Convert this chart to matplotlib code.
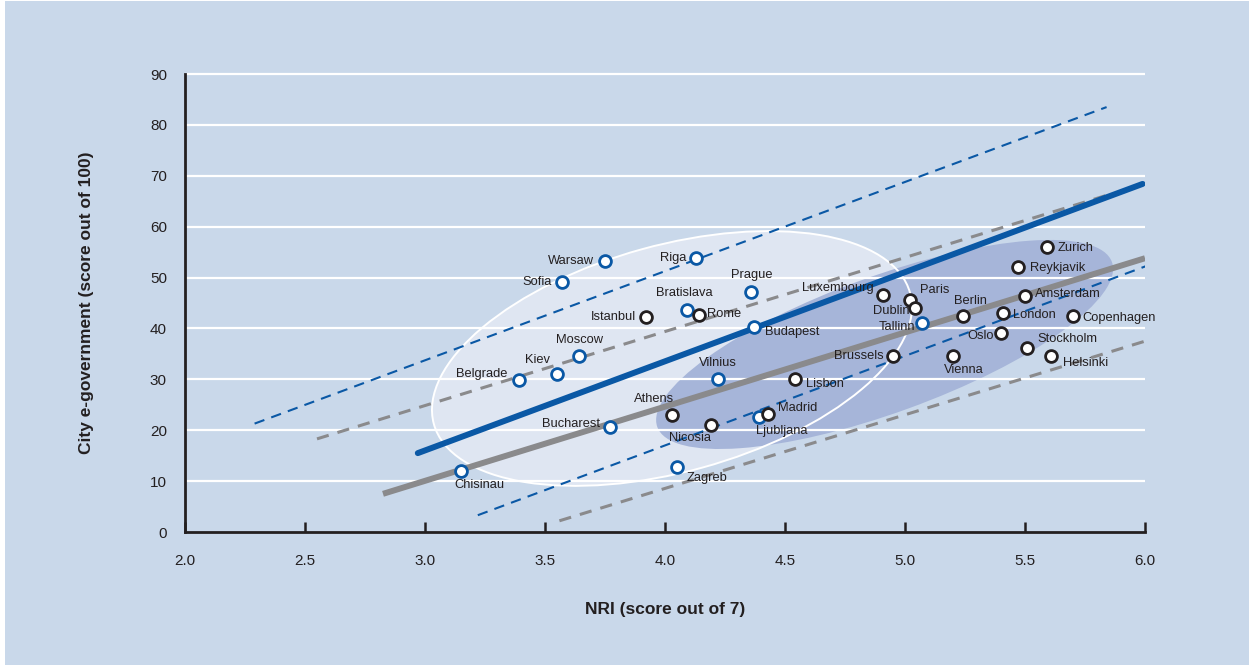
import matplotlib
matplotlib.use("Agg")
import matplotlib.pyplot as plt
from matplotlib.patches import Ellipse, Rectangle
from matplotlib.transforms import Affine2D

plt.rcParams["font.family"] = ["Liberation Sans", "DejaVu Sans"]

# City scores: NRI (x) vs city e-government (y)
cities = ["Warsaw", "Riga", "Sofia", "Prague", "Bratislava", "Rome", "Istanbul",
          "Budapest", "Moscow", "Kiev", "Belgrade", "Vilnius", "Athens", "Bucharest",
          "Nicosia", "Ljubljana", "Madrid", "Zagreb", "Chisinau", "Lisbon",
          "Luxembourg", "Paris", "Dublin", "Tallinn", "Brussels", "Berlin", "Vienna",
          "London", "Oslo", "Amsterdam", "Reykjavik", "Zurich", "Copenhagen",
          "Stockholm", "Helsinki"]
nri = [3.75, 4.13, 3.57, 4.36, 4.09, 4.14, 3.92,
       4.37, 3.64, 3.55, 3.39, 4.22, 4.03, 3.77,
       4.19, 4.39, 4.43, 4.05, 3.15, 4.54,
       4.91, 5.02, 5.04, 5.07, 4.95, 5.24, 5.20,
       5.41, 5.40, 5.50, 5.47, 5.59, 5.70,
       5.51, 5.61]
egov = [53.3, 53.8, 49.1, 47.2, 43.6, 42.6, 42.2,
        40.3, 34.6, 31.0, 29.9, 30.1, 23.0, 20.6,
        21.0, 22.6, 23.2, 12.8, 12.0, 30.1,
        46.6, 45.6, 44.0, 41.1, 34.6, 42.4, 34.6,
        43.0, 39.1, 46.4, 52.1, 56.0, 42.4,
        36.2, 34.6]
# group: "new" member / candidate states (blue) vs others (black)
group = ["new", "new", "new", "new", "new", "old", "old",
         "new", "new", "new", "new", "new", "old", "new",
         "old", "new", "old", "new", "new", "old",
         "old", "old", "old", "new", "old", "old", "old",
         "old", "old", "old", "old", "old", "old",
         "old", "old"]

# Trend lines (start and end points)
blue_fit_x, blue_fit_y = [2.97, 5.99], [15.5, 68.4]
blue_hi_x, blue_hi_y = [2.29, 5.84], [21.3, 83.5]
blue_lo_x, blue_lo_y = [3.22, 6.03], [3.3, 52.7]
grey_fit_x, grey_fit_y = [2.825, 6.0], [7.5, 53.8]
grey_hi_x, grey_hi_y = [2.55, 5.85], [18.3, 66.3]
grey_lo_x, grey_lo_y = [3.56, 6.0], [2.2, 37.5]

x_ticks = [2.0, 2.5, 3.0, 3.5, 4.0, 4.5, 5.0, 5.5, 6.0]
y_ticks = [0, 10, 20, 30, 40, 50, 60, 70, 80, 90]

# label placement: (dx, dy) in points, ha, va
label_pos = {
    "Warsaw": (-8, 0, "right", "center"),
    "Riga": (-7, 0, "right", "center"),
    "Sofia": (-7, 0, "right", "center"),
    "Prague": (0, 8, "center", "bottom"),
    "Bratislava": (-2, 8, "center", "bottom"),
    "Rome": (6, 1, "left", "center"),
    "Istanbul": (-7, 0, "right", "center"),
    "Budapest": (8, -4, "left", "center"),
    "Moscow": (1, 7, "center", "bottom"),
    "Kiev": (-14, 6, "center", "bottom"),
    "Belgrade": (-8, 4, "right", "center"),
    "Vilnius": (0, 7, "center", "bottom"),
    "Athens": (-13, 7, "center", "bottom"),
    "Bucharest": (-7, 2, "right", "center"),
    "Nicosia": (-15, -5, "center", "top"),
    "Ljubljana": (17, -6, "center", "top"),
    "Madrid": (7, 4, "left", "center"),
    "Zagreb": (7, -4, "left", "top"),
    "Chisinau": (13, -6, "center", "top"),
    "Lisbon": (8, -4, "left", "center"),
    "Luxembourg": (-7, 5, "right", "center"),
    "Paris": (7, 7, "left", "center"),
    "Dublin": (-4, -2, "right", "center"),
    "Tallinn": (-5, -3, "right", "center"),
    "Brussels": (-7, 0, "right", "center"),
    "Berlin": (6, 7, "center", "bottom"),
    "Vienna": (8, -6, "center", "top"),
    "London": (7, -1, "left", "center"),
    "Oslo": (-5, -2, "right", "center"),
    "Amsterdam": (7, 1, "left", "center"),
    "Reykjavik": (9, -1, "left", "center"),
    "Zurich": (8, -1, "left", "center"),
    "Copenhagen": (7, -1, "left", "center"),
    "Stockholm": (7, 6, "left", "center"),
    "Helsinki": (8, -5, "left", "center"),
}

BG = "#c9d8ea"
BLUE = "#0a58a5"
GREY = "#8a8a8c"
INK = "#231f20"

fig = plt.figure(figsize=(12.53, 6.70), dpi=100, facecolor="white")
fig.add_artist(Rectangle((5 / 1253, 5 / 670), 1244 / 1253, 664 / 670,
                         transform=fig.transFigure, facecolor=BG,
                         edgecolor="none", zorder=-10))

ax = fig.add_axes([185 / 1253, 138 / 670, 960 / 1253, 458 / 670])
ax.set_facecolor("none")
ax.set_xlim(2.0, 6.0)
ax.set_ylim(0, 90)

# isotropic coordinates for the ellipses (1 unit = one NRI point on screen)
y_per_x = (90 / 458) * (960 / 4.0)
iso = Affine2D().scale(1, y_per_x) + ax.transData

ax.add_patch(Ellipse((4.029, 34.1 / y_per_x), 2.058, 0.944, angle=15.4,
                     transform=iso, facecolor="#dfe6f2", edgecolor="none", zorder=1))
ax.add_patch(Ellipse((4.915, 36.85 / y_per_x), 2.015, 0.569, angle=19.95,
                     transform=iso, facecolor="#a6b5d9", edgecolor="none", zorder=1.5))
ax.add_patch(Ellipse((4.029, 34.1 / y_per_x), 2.058, 0.944, angle=15.4,
                     transform=iso, facecolor="none", edgecolor="white",
                     linewidth=1.4, zorder=2.5))

ax.hlines(y_ticks[1:], 2.0, 6.0, color="white", linewidth=1.6, zorder=2, clip_on=False)

ax.plot(grey_hi_x, grey_hi_y, color=GREY, lw=2.2, dashes=(4, 3), zorder=3)
ax.plot(grey_lo_x, grey_lo_y, color=GREY, lw=2.2, dashes=(4, 3), zorder=3)
ax.plot(blue_hi_x, blue_hi_y, color=BLUE, lw=1.5, dashes=(5, 3.5), zorder=3)
ax.plot(blue_lo_x, blue_lo_y, color=BLUE, lw=1.5, dashes=(5, 3.5), zorder=3)
ax.plot(grey_fit_x, grey_fit_y, color=GREY, lw=4.3, solid_capstyle="butt", zorder=3)
ax.plot(blue_fit_x, blue_fit_y, color=BLUE, lw=4.3, solid_capstyle="round", zorder=3)

for name, x, y, g in zip(cities, nri, egov, group):
    ax.plot(x, y, marker="o", ms=8.5, mfc="white", mec=BLUE if g == "new" else INK,
            mew=2.0, zorder=5, clip_on=False)
    dx, dy, ha, va = label_pos[name]
    ax.annotate(name, (x, y), xytext=(dx, dy), textcoords="offset points",
                ha=ha, va=va, fontsize=9.3, color=INK, zorder=6)

for side in ["top", "right"]:
    ax.spines[side].set_visible(False)
for side in ["left", "bottom"]:
    ax.spines[side].set_color(INK)
    ax.spines[side].set_linewidth(2.0)
    ax.spines[side].set_zorder(4)

ax.set_xticks(x_ticks)
ax.set_xticklabels([f"{t:.1f}" for t in x_ticks])
ax.set_yticks(y_ticks)
ax.tick_params(axis="x", direction="in", length=7.5, width=1.8, color=INK,
               pad=16, labelsize=11, labelcolor=INK)
ax.tick_params(axis="y", length=0, pad=13, labelsize=11, labelcolor=INK)

ax.set_xlabel("NRI (score out of 7)", fontsize=12.5, fontweight="bold",
              color=INK, labelpad=24)
ax.set_ylabel("City e-government (score out of 100)", fontsize=12.5,
              fontweight="bold", color=INK, labelpad=40)

fig.savefig("out.png", dpi=100, facecolor="white")
